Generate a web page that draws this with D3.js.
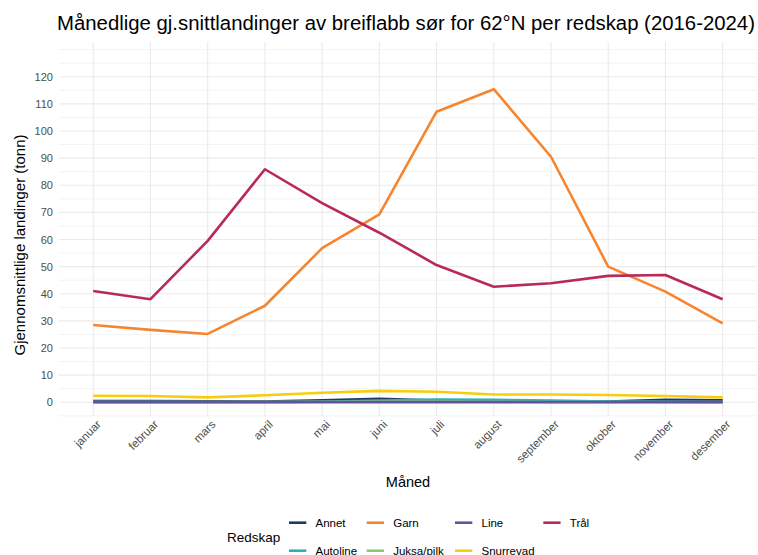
<!DOCTYPE html>
<html><head><meta charset="utf-8">
<script src="https://cdn.jsdelivr.net/npm/d3@7"></script>
<style>
html,body{margin:0;padding:0;background:#fff;}
text{font-family:"Liberation Sans",Arial,sans-serif;}
</style></head>
<body>
<svg id="chart" width="758" height="555"></svg>
<script>
const months = ["januar","februar","mars","april","mai","juni","juli","august","september","oktober","november","desember"];
const gearNames = ["Annet","Autoline","Garn","Juksa/pilk","Line","Snurrevad","Trål"];
const annet     = [0.5,0.5,0.4,0.3,0.7,1.3,0.6,0.4,0.4,0.3,0.9,0.7];
const autoline  = [0.1,0.1,0.1,0.1,0.2,0.6,1.0,0.9,0.6,0.3,0.2,0.1];
const garn      = [28.5,26.7,25.2,35.6,56.8,69.3,107.1,115.4,90.5,50.0,40.8,29.1];
const juksaPilk = [0.1,0.1,0.1,0.1,0.2,0.3,0.3,0.2,0.1,0.1,0.1,0.1];
const line      = [0.05,0.05,0.05,0.05,0.05,0.05,0.05,0.05,0.05,0.05,0.05,0.05];
const snurrevad = [2.4,2.3,1.8,2.6,3.5,4.2,3.9,2.9,2.9,2.7,2.3,1.8];
const tral      = [41.0,38.0,59.5,85.9,73.4,62.5,50.6,42.6,43.9,46.6,46.9,38.0];
const yTicks = [0,10,20,30,40,50,60,70,80,90,100,110,120];
const colors = ["#1D3A66","#23B4BE","#F68530","#86C97A","#6C4E9F","#F7CE0F","#B82B56"];
const seriesValues = [annet,autoline,garn,juksaPilk,line,snurrevad,tral];

const series = gearNames.map((n,i)=>({name:n,color:colors[i],values:seriesValues[i]}));

const svg = d3.select("#chart");
const panel = {left:58.9, right:757, top:42, bottom:416};

const x = d3.scalePoint().domain(months).range([panel.left, panel.right]).padding(0.6);
const y = d3.scaleLinear().domain([-5.05, 132.8]).range([panel.bottom, panel.top]);

const g = svg.append("g");
const minor = d3.range(-5, 131, 5).filter(v => v % 10 !== 0 || v > 120);
g.selectAll(".minor").data(minor).join("line")
  .attr("x1",panel.left).attr("x2",panel.right)
  .attr("y1",d=>y(d)).attr("y2",d=>y(d))
  .attr("stroke","#EBEBEB").attr("stroke-width",0.6);
g.selectAll(".major").data(yTicks).join("line")
  .attr("x1",panel.left).attr("x2",panel.right)
  .attr("y1",d=>y(d)).attr("y2",d=>y(d))
  .attr("stroke","#EBEBEB").attr("stroke-width",1.1);
g.selectAll(".vgrid").data(months).join("line")
  .attr("x1",d=>x(d)).attr("x2",d=>x(d))
  .attr("y1",panel.top).attr("y2",panel.bottom)
  .attr("stroke","#EBEBEB").attr("stroke-width",1.1);

const lineGen = d3.line().x((d,i)=>x(months[i])).y(d=>y(d)).curve(d3.curveLinear);
svg.append("g").selectAll("path").data(series).join("path")
  .attr("d",d=>lineGen(d.values))
  .attr("fill","none").attr("stroke",d=>d.color)
  .attr("stroke-width",2.6).attr("stroke-linejoin","round").attr("stroke-linecap","butt");

const yAxis = d3.axisLeft(y).tickValues(yTicks).tickSize(0).tickPadding(0);
const ya = svg.append("g").attr("transform",`translate(${panel.left-6},0)`).call(yAxis);
ya.select(".domain").remove();
ya.selectAll("text").attr("fill","#4D4D4D").style("font-size","11px").style("font-family","'Liberation Sans',Arial,sans-serif");

const xAxis = d3.axisBottom(x).tickSize(0).tickPadding(0);
const xa = svg.append("g").attr("transform",`translate(2,${panel.bottom+3})`).call(xAxis);
xa.select(".domain").remove();
xa.selectAll("text")
  .attr("fill","#4D4D4D").style("font-size","11.5px").style("font-family","'Liberation Sans',Arial,sans-serif")
  .attr("text-anchor","end").attr("dy","0.75em").attr("y",0).attr("x",0)
  .attr("transform","rotate(-45)");

const title = svg.append("text").attr("x",57).attr("y",30)
  .style("font-size","20px").attr("fill","#000")
  .text("Månedlige gj.snittlandinger av breiflabb sør for 62°N per redskap (2016-2024)");
const tl = title.node().getComputedTextLength();
title.style("font-size", (20*698/tl).toFixed(2)+"px");

svg.append("text").attr("x",408).attr("y",487).attr("text-anchor","middle")
  .style("font-size","14.5px").attr("fill","#000").text("Måned");
svg.append("text").attr("transform","translate(25,245) rotate(-90)").attr("text-anchor","middle")
  .style("font-size","15px").attr("fill","#000").text("Gjennomsnittlige landinger (tonn)");

svg.append("text").attr("x",227).attr("y",541.5).style("font-size","13.5px").attr("fill","#000").text("Redskap");
const colX = [289, 366.7, 455, 543.3];
const rowY = [522.7, 550.7];
const leg = svg.append("g").selectAll("g").data(series).join("g")
  .attr("transform",(d,i)=>`translate(${colX[Math.floor(i/2)]},${rowY[i%2]})`);
leg.append("line").attr("x1",0).attr("x2",17.3).attr("y1",0).attr("y2",0)
  .attr("stroke",d=>d.color).attr("stroke-width",2.6);
leg.append("text").attr("x",26.5).attr("y",4).style("font-size","11.5px").attr("fill","#000").text(d=>d.name);
</script>
</body></html>
